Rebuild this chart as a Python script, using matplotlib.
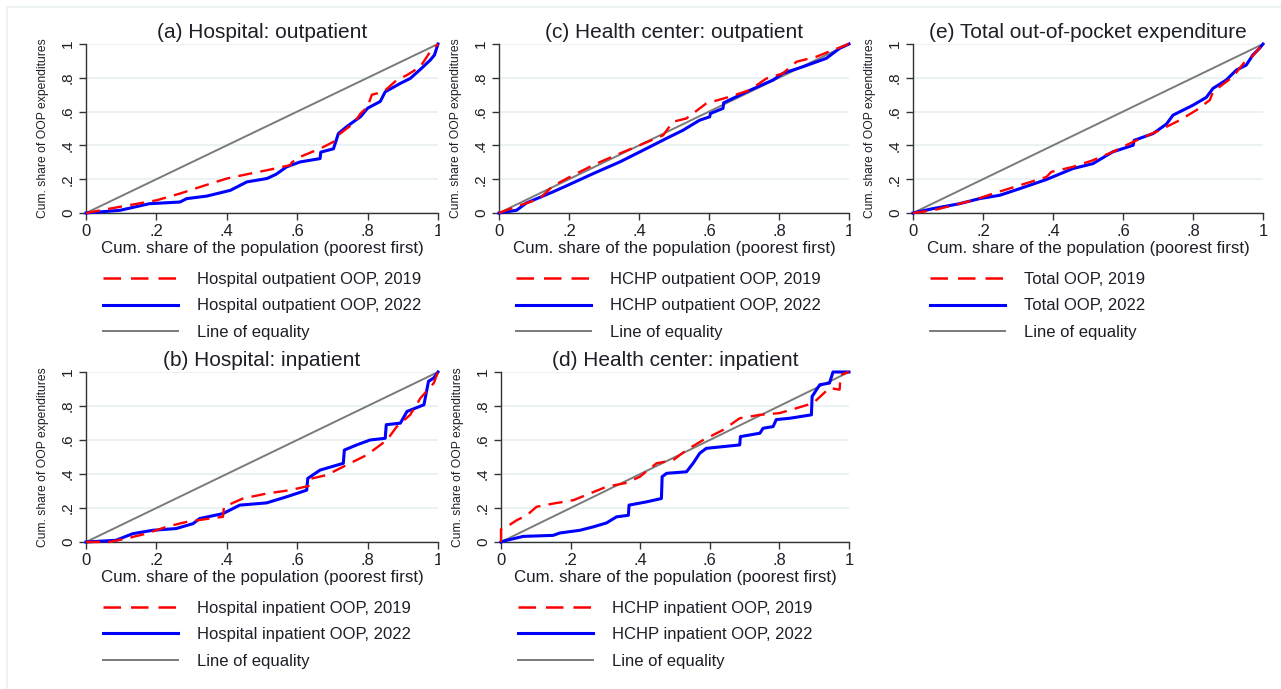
import matplotlib
matplotlib.use("Agg")
import matplotlib.pyplot as plt
from matplotlib.lines import Line2D
from matplotlib.transforms import Bbox, TransformedBbox

plt.rcParams['font.family'] = ['Liberation Sans', 'DejaVu Sans']

# Concentration curves: cumulative share of population (x) vs cumulative share of OOP spending (y)
a_x19 = [0, 0.068, 0.2, 0.267, 0.324, 0.4, 0.466, 0.514, 0.58, 0.585, 0.608, 0.665, 0.703, 0.722,
         0.76, 0.78, 0.8, 0.812, 0.845, 0.883, 0.912, 0.95, 0.978, 1]
a_y19 = [0, 0.026, 0.075, 0.115, 0.154, 0.204, 0.233, 0.253, 0.283, 0.30, 0.332, 0.381, 0.421, 0.47,
         0.53, 0.589, 0.628, 0.70, 0.717, 0.787, 0.816, 0.866, 0.955, 1]
a_x22 = [0, 0.097, 0.18, 0.267, 0.286, 0.343, 0.41, 0.457, 0.514, 0.54, 0.57, 0.608, 0.665, 0.667,
         0.703, 0.717, 0.74, 0.78, 0.8, 0.836, 0.85, 0.893, 0.921, 0.95, 0.978, 0.99, 1]
a_y22 = [0, 0.016, 0.055, 0.065, 0.085, 0.10, 0.134, 0.184, 0.204, 0.229, 0.273, 0.302, 0.322, 0.36,
         0.38, 0.47, 0.51, 0.57, 0.62, 0.66, 0.717, 0.767, 0.796, 0.85, 0.905, 0.935, 1]

b_x19 = [0, 0.066, 0.114, 0.171, 0.228, 0.285, 0.351, 0.389, 0.392, 0.446, 0.513, 0.579, 0.632, 0.634,
         0.684, 0.75, 0.798, 0.855, 0.883, 0.921, 0.95, 0.988, 1]
b_y19 = [0, 0, 0.02, 0.049, 0.089, 0.118, 0.138, 0.148, 0.207, 0.256, 0.285, 0.305, 0.329, 0.37,
         0.394, 0.463, 0.512, 0.60, 0.679, 0.748, 0.846, 0.935, 1]
b_x22 = [0, 0.085, 0.133, 0.19, 0.256, 0.304, 0.323, 0.389, 0.437, 0.513, 0.57, 0.627, 0.630, 0.665,
         0.731, 0.734, 0.769, 0.807, 0.85, 0.853, 0.893, 0.912, 0.96, 0.973, 0.988, 1]
b_y22 = [0, 0.01, 0.049, 0.069, 0.079, 0.108, 0.138, 0.167, 0.217, 0.23, 0.266, 0.305, 0.374, 0.423,
         0.463, 0.541, 0.571, 0.60, 0.61, 0.69, 0.699, 0.768, 0.807, 0.945, 0.965, 1]

c_x19 = [0, 0.059, 0.116, 0.154, 0.211, 0.278, 0.345, 0.402, 0.469, 0.497, 0.535, 0.592, 0.659,
         0.716, 0.764, 0.811, 0.85, 0.907, 0.954, 1]
c_y19 = [0, 0.045, 0.085, 0.16, 0.223, 0.292, 0.352, 0.401, 0.46, 0.54, 0.559, 0.648, 0.688,
         0.727, 0.796, 0.826, 0.895, 0.925, 0.964, 1]
c_x22 = [0, 0.05, 0.078, 0.154, 0.192, 0.269, 0.345, 0.421, 0.478, 0.526, 0.573, 0.602, 0.604,
         0.64, 0.642, 0.707, 0.783, 0.811, 0.869, 0.935, 0.973, 1]
c_y22 = [0, 0.016, 0.059, 0.125, 0.16, 0.233, 0.302, 0.381, 0.441, 0.49, 0.549, 0.569, 0.589,
         0.619, 0.652, 0.717, 0.787, 0.826, 0.866, 0.915, 0.974, 1]

d_x19 = [0, 0, 0.016, 0.045, 0.074, 0.102, 0.15, 0.208, 0.255, 0.303, 0.361, 0.399, 0.447, 0.495,
         0.533, 0.581, 0.638, 0.686, 0.744, 0.8, 0.849, 0.897, 0.944, 0.973, 0.976, 1]
d_y19 = [0, 0.075, 0.089, 0.128, 0.157, 0.207, 0.226, 0.246, 0.285, 0.325, 0.348, 0.384, 0.463, 0.482,
         0.541, 0.60, 0.659, 0.728, 0.748, 0.758, 0.787, 0.817, 0.906, 0.896, 0.984, 1]
d_x22 = [0, 0.016, 0.064, 0.15, 0.169, 0.227, 0.265, 0.303, 0.332, 0.366, 0.368, 0.418, 0.461, 0.463,
         0.476, 0.533, 0.552, 0.571, 0.59, 0.638, 0.686, 0.688, 0.744, 0.753, 0.782, 0.791, 0.83,
         0.892, 0.894, 0.916, 0.944, 0.954, 1]
d_y22 = [0, 0.01, 0.033, 0.039, 0.053, 0.069, 0.089, 0.112, 0.148, 0.157, 0.217, 0.236, 0.256, 0.384,
         0.404, 0.413, 0.463, 0.522, 0.551, 0.561, 0.571, 0.62, 0.64, 0.669, 0.679, 0.72, 0.728,
         0.748, 0.856, 0.925, 0.935, 1.0, 1]

e_x19 = [0, 0.057, 0.114, 0.171, 0.229, 0.305, 0.381, 0.395, 0.457, 0.514, 0.571, 0.629, 0.705,
         0.762, 0.81, 0.848, 0.857, 0.914, 0.952, 0.971, 1]
e_y19 = [0, 0.016, 0.045, 0.075, 0.115, 0.164, 0.213, 0.243, 0.273, 0.312, 0.362, 0.421, 0.49,
         0.549, 0.609, 0.668, 0.717, 0.806, 0.905, 0.93, 1]
e_x22 = [0, 0.057, 0.133, 0.19, 0.248, 0.305, 0.381, 0.457, 0.514, 0.571, 0.629, 0.632, 0.686,
         0.724, 0.743, 0.8, 0.838, 0.857, 0.895, 0.924, 0.952, 0.971, 0.99, 1]
e_y22 = [0, 0.026, 0.055, 0.085, 0.105, 0.144, 0.198, 0.263, 0.292, 0.362, 0.401, 0.43, 0.47,
         0.526, 0.579, 0.638, 0.684, 0.737, 0.787, 0.846, 0.875, 0.935, 0.974, 1]

ticks = [0, 0.2, 0.4, 0.6, 0.8, 1]
tick_labels = ['0', '.2', '.4', '.6', '.8', '1']

panels = [
    # title, x19, y19, x22, y22, legend prefix, axes rect in pixels (left, top, right, bottom)
    ('(a) Hospital: outpatient', a_x19, a_y19, a_x22, a_y22, 'Hospital outpatient OOP', (86, 44, 438, 213)),
    ('(c) Health center: outpatient', c_x19, c_y19, c_x22, c_y22, 'HCHP outpatient OOP', (499, 44, 849, 213)),
    ('(e) Total out-of-pocket expenditure', e_x19, e_y19, e_x22, e_y22, 'Total OOP', (913, 44, 1263, 213)),
    ('(b) Hospital: inpatient', b_x19, b_y19, b_x22, b_y22, 'Hospital inpatient OOP', (86, 372, 438, 542)),
    ('(d) Health center: inpatient', d_x19, d_y19, d_x22, d_y22, 'HCHP inpatient OOP', (501, 372, 849, 542)),
]
clip_right = [True, True, False, True, False]

W, H = 1281, 689
fig = plt.figure(figsize=(W / 100, H / 100), dpi=100)
fig.patch.set_facecolor('white')

red, blue, gray = '#ff0000', '#0000ff', '#7a7a7a'
txt = '#1e1e28'
for (title, x19, y19, x22, y22, prefix, (l, t, r, b)), clip in zip(panels, clip_right):
    ax = fig.add_axes([l / W, 1 - b / H, (r - l) / W, (b - t) / H])
    ax.set_xlim(0, 1)
    ax.set_ylim(0, 1)
    for s in ('top', 'right'):
        ax.spines[s].set_visible(False)
    for s in ('left', 'bottom'):
        ax.spines[s].set_color('#333333')
        ax.spines[s].set_linewidth(1.0)
    ax.set_yticks(ticks)
    ax.set_xticks(ticks)
    ax.set_yticklabels(tick_labels, rotation=90, va='center', fontsize=11, color=txt)
    ax.set_xticklabels(tick_labels, fontsize=12, color=txt)
    ax.tick_params(direction='out', length=5, width=1, color='#333333', pad=3)
    ax.grid(axis='y', color='#e8f0f2', linewidth=1.2)
    ax.set_axisbelow(True)

    ax.plot([0, 1], [0, 1], color=gray, lw=1.4, zorder=2)
    ax.plot(x22, y22, color=blue, lw=2.2, zorder=3, clip_on=False)
    ax.plot(x19, y19, color=red, lw=1.7, dashes=(6, 3.5), zorder=4, clip_on=False)

    ax.set_title(title, fontsize=15, color=txt, pad=4)
    ax.set_xlabel('Cum. share of the population (poorest first)', fontsize=12.2, color=txt, labelpad=1.5)
    ax.set_ylabel('Cum. share of OOP expenditures', fontsize=8.7, color=txt, labelpad=8.5)

    if clip:
        # last x tick label is cut by the neighbouring graph region
        box = TransformedBbox(Bbox([[0, 0], [(r + 2) / W, 1]]), fig.transFigure)
        lbl = ax.get_xticklabels()[-1]
        lbl.set_clip_box(box)
        lbl.set_clip_on(True)

    handles = [
        Line2D([], [], color=red, lw=1.8, dashes=(7, 4)),
        Line2D([], [], color=blue, lw=2.2),
        Line2D([], [], color=gray, lw=1.4),
    ]
    labels = [prefix + ', 2019', prefix + ', 2022', 'Line of equality']
    fig.legend(handles, labels, loc='upper left',
               bbox_to_anchor=((l + 10) / W, 1 - (b + 52) / H),
               frameon=False, fontsize=12, handlelength=4.5, handletextpad=1.15,
               labelspacing=0.7, labelcolor=txt, borderaxespad=0)

# faint frame lines at the left and top edges
fig.add_artist(Line2D([7 / W, 7 / W], [0, 1 - 7 / H], transform=fig.transFigure, color='#edf2f2', lw=1.5))
fig.add_artist(Line2D([7 / W, 1], [1 - 7 / H, 1 - 7 / H], transform=fig.transFigure, color='#edf2f2', lw=1.5))

fig.savefig('out.png', dpi=100)
